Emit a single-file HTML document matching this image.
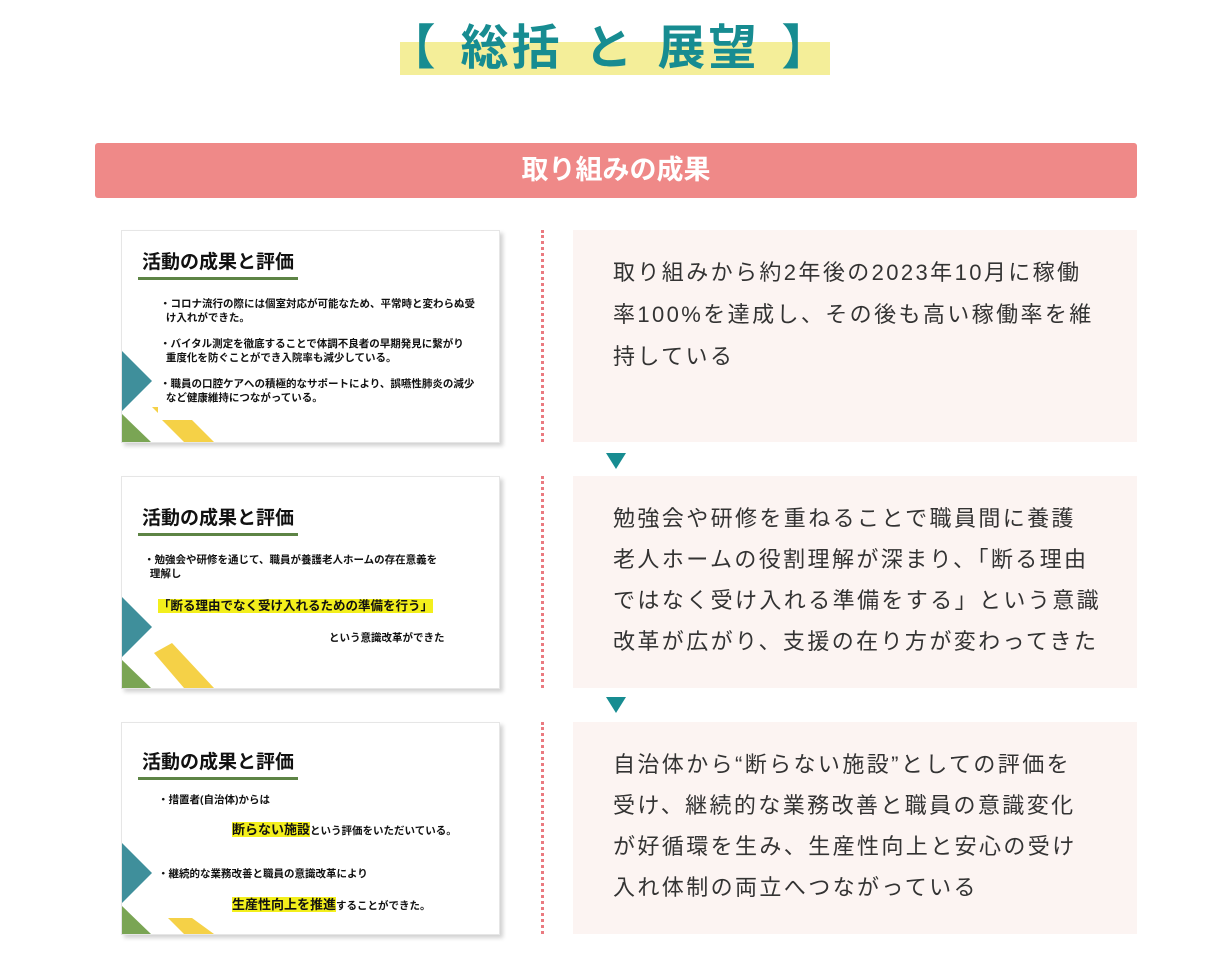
<!DOCTYPE html>
<html><head><meta charset="utf-8"><style>
body{margin:0;width:1220px;height:970px;background:#fff;position:relative;font-family:"Liberation Sans","Noto Sans CJK JP",sans-serif;overflow:hidden}
.abs{position:absolute}
.title{left:400px;top:42px;width:430px;height:33px;background:#f4ee99}
.ttext{left:0;width:1220px;top:8px;text-align:center;font-size:48px;font-weight:bold;color:#178c91;letter-spacing:3px;white-space:pre}
.sp{display:inline-block;width:22px}
.bar{left:95px;top:143px;width:1042px;height:55px;background:#ef8988;border-radius:3px;color:#fff;font-size:27px;font-weight:bold;text-align:center;line-height:55px}
.slide{left:121px;width:377px;height:211px;background:#fff;border:1px solid #e6e6e6;box-shadow:3px 3px 4px rgba(0,0,0,.18);overflow:hidden}
.slide h3{position:absolute;left:16px;margin:0;font-size:19px;font-weight:bold;color:#111;padding:0 4px 2px;border-bottom:3px solid #5d8445;line-height:24px}
.slide p{position:absolute;margin:0;font-size:10.5px;font-weight:bold;color:#111;line-height:14px}
.hl{background:#f3ef1c}
.box{left:573px;width:564px;background:#fcf4f2;font-size:22px;color:#333;line-height:41px;padding:22px 0 0 40px;box-sizing:border-box;letter-spacing:2.4px;white-space:nowrap}
.dot{left:541px;width:0;border-left:3px dotted #ea7a80}
.arr{left:606px;width:0;height:0;border-left:10px solid transparent;border-right:10px solid transparent;border-top:16px solid #178c91}
</style></head><body>
<div class="abs title"></div>
<div class="abs ttext">【<span class="sp"></span>総括<span class="sp"></span>と<span class="sp"></span>展望<span class="sp"></span>】</div>
<div class="abs bar">取り組みの成果</div>

<div class="abs dot" style="top:230px;height:212px"></div>
<div class="abs dot" style="top:476px;height:212px"></div>
<div class="abs dot" style="top:722px;height:212px"></div>

<div class="abs slide" style="top:230px">
<h3 style="top:20px">活動の成果と評価</h3>
<p style="left:38px;top:66px">・コロナ流行の際には個室対応が可能なため、平常時と変わらぬ受<br>&nbsp;&nbsp;け入れができた。</p>
<p style="left:38px;top:106px">・バイタル測定を徹底することで体調不良者の早期発見に繋がり<br>&nbsp;&nbsp;重度化を防ぐことができ入院率も減少している。</p>
<p style="left:38px;top:146px">・職員の口腔ケアへの積極的なサポートにより、誤嚥性肺炎の減少<br>&nbsp;&nbsp;など健康維持につながっている。</p>
<svg class="abs" style="left:0;top:0" width="377" height="211"><polygon points="0,120 30,150 0,180" fill="#3f8f9b"/><polygon points="0,183 29,211 0,211" fill="#7aa554"/><polygon points="40,189 70,189 92,211 62,211" fill="#f5d147"/><polygon points="30,176 36,176 36,182" fill="#f5d147"/></svg>
</div>

<div class="abs slide" style="top:476px">
<h3 style="top:30px">活動の成果と評価</h3>
<p style="left:22px;top:76px">・勉強会や研修を通じて、職員が養護老人ホームの存在意義を<br>&nbsp;&nbsp;理解し</p>
<p style="left:36px;top:122px;font-size:12.5px"><span class="hl">「断る理由でなく受け入れるための準備を行う」</span></p>
<p style="left:207px;top:154px">という意識改革ができた</p>
<svg class="abs" style="left:0;top:0" width="377" height="211"><polygon points="0,120 30,150 0,180" fill="#3f8f9b"/><polygon points="0,183 29,211 0,211" fill="#7aa554"/><polygon points="32,176 50,166 92,211 62,211" fill="#f5d147"/></svg>
</div>

<div class="abs slide" style="top:722px">
<h3 style="top:28px">活動の成果と評価</h3>
<p style="left:36px;top:70px">・措置者(自治体)からは</p>
<p style="left:110px;top:100px"><span class="hl" style="font-size:13px">断らない施設</span>という評価をいただいている。</p>
<p style="left:36px;top:144px">・継続的な業務改善と職員の意識改革により</p>
<p style="left:110px;top:175px"><span class="hl" style="font-size:13px">生産性向上を推進</span>することができた。</p>
<svg class="abs" style="left:0;top:0" width="377" height="211"><polygon points="0,120 30,150 0,180" fill="#3f8f9b"/><polygon points="0,183 29,211 0,211" fill="#7aa554"/><polygon points="46,195 70,195 92,211 62,211" fill="#f5d147"/></svg>
</div>

<div class="abs box" style="top:230px;height:212px;line-height:42px">取り組みから約2年後の2023年10月に稼働<br>率100%を達成し、その後も高い稼働率を維<br>持している</div>
<div class="abs arr" style="top:453px"></div>
<div class="abs box" style="top:476px;height:212px">勉強会や研修を重ねることで職員間に養護<br>老人ホームの役割理解が深まり、「断る理由<br>ではなく受け入れる準備をする」という意識<br>改革が広がり、支援の在り方が変わってきた</div>
<div class="abs arr" style="top:697px"></div>
<div class="abs box" style="top:722px;height:212px">自治体から“断らない施設”としての評価を<br>受け、継続的な業務改善と職員の意識変化<br>が好循環を生み、生産性向上と安心の受け<br>入れ体制の両立へつながっている</div>
</body></html>
